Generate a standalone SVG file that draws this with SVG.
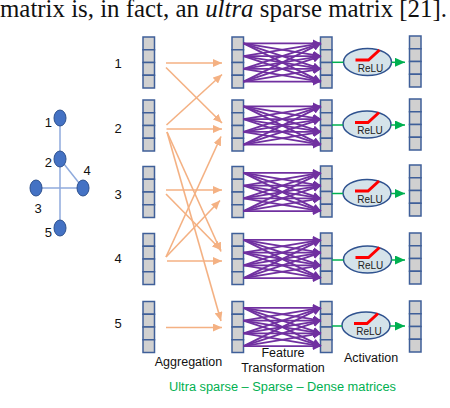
<svg xmlns="http://www.w3.org/2000/svg" xmlns:xlink="http://www.w3.org/1999/xlink" width="450" height="408" viewBox="0 0 450 408">
<style>
.cell{fill:#D0D0D0;stroke:#3F5F99;stroke-width:1.5}
.lbl{font-family:"Liberation Sans",Arial,sans-serif;font-size:13px;fill:#111}
.cap{font-family:"Liberation Sans",Arial,sans-serif;font-size:12.5px;fill:#111;text-anchor:middle}
.edge{stroke:#8FAADC;stroke-width:1.5;fill:none}
.gnode{fill:#4472C4;stroke:#2F528F;stroke-width:1}
.or{stroke:#F4B183;stroke-width:1.6;fill:none;marker-end:url(#ah-or)}
.pu{stroke:#7030A0;stroke-width:1.9;fill:none;marker-end:url(#ah-pu)}
.gr{stroke:#00B050;stroke-width:1.5;fill:none}
.gra{stroke:#00B050;stroke-width:1.5;fill:none;marker-end:url(#ah-gr)}
.relu{fill:#D5E3EA;stroke:#2F528F;stroke-width:1.5}
</style>
<defs>
<marker id="ah-or" markerUnits="userSpaceOnUse" markerWidth="9" markerHeight="8" refX="9" refY="4" orient="auto"><path d="M0,0 L9,4 L0,8 z" fill="#F4B183"/></marker>
<marker id="ah-pu" markerUnits="userSpaceOnUse" markerWidth="8" markerHeight="8" refX="8" refY="4" orient="auto"><path d="M0,0 L8,4 L0,8 z" fill="#7030A0"/></marker>
<marker id="ah-gr" markerUnits="userSpaceOnUse" markerWidth="10" markerHeight="9" refX="10" refY="4.5" orient="auto"><path d="M0,0 L10,4.5 L0,9 z" fill="#00B050"/></marker>
<g id="mat">
<rect class="cell" x="0" y="0" width="11.5" height="12.75"/>
<rect class="cell" x="0" y="12.75" width="11.5" height="12.75"/>
<rect class="cell" x="0" y="25.5" width="11.5" height="12.75"/>
<rect class="cell" x="0" y="38.25" width="11.5" height="12.75"/>
</g>
<g id="fan">
<line class="pu" x1="243.5" y1="6.4" x2="321" y2="6.4"/>
<line class="pu" x1="243.5" y1="6.4" x2="321" y2="19.1"/>
<line class="pu" x1="243.5" y1="6.4" x2="321" y2="31.9"/>
<line class="pu" x1="243.5" y1="6.4" x2="321" y2="44.6"/>
<line class="pu" x1="243.5" y1="19.1" x2="321" y2="6.4"/>
<line class="pu" x1="243.5" y1="19.1" x2="321" y2="19.1"/>
<line class="pu" x1="243.5" y1="19.1" x2="321" y2="31.9"/>
<line class="pu" x1="243.5" y1="19.1" x2="321" y2="44.6"/>
<line class="pu" x1="243.5" y1="31.9" x2="321" y2="6.4"/>
<line class="pu" x1="243.5" y1="31.9" x2="321" y2="19.1"/>
<line class="pu" x1="243.5" y1="31.9" x2="321" y2="31.9"/>
<line class="pu" x1="243.5" y1="31.9" x2="321" y2="44.6"/>
<line class="pu" x1="243.5" y1="44.6" x2="321" y2="6.4"/>
<line class="pu" x1="243.5" y1="44.6" x2="321" y2="19.1"/>
<line class="pu" x1="243.5" y1="44.6" x2="321" y2="31.9"/>
<line class="pu" x1="243.5" y1="44.6" x2="321" y2="44.6"/>
</g>
<g id="reluU">
<ellipse class="relu" cx="0" cy="0" rx="24" ry="13.5"/>
<polyline points="-12,-2 1,-2 12,-12" fill="none" stroke="#FF0000" stroke-width="3"/>
<text x="3" y="9.5" font-family="Liberation Sans,Arial,sans-serif" font-size="10" fill="#222" text-anchor="middle">ReLU</text>
</g>
</defs>
<rect width="450" height="408" fill="#FFFFFF"/>
<text x="0" y="16.5" font-family="Liberation Serif,'Times New Roman',serif" font-size="25" fill="#111" textLength="447" lengthAdjust="spacingAndGlyphs">matrix is, in fact, an <tspan font-style="italic">ultra</tspan> sparse matrix [21].</text>

<g id="graph-edges">
<line class="edge" x1="60" y1="118" x2="60" y2="228"/>
<line class="edge" x1="36" y1="188" x2="83" y2="188"/>
<line class="edge" x1="60" y1="159" x2="83" y2="188"/>
</g>
<g id="g1"><ellipse class="gnode" cx="60" cy="118" rx="6" ry="8"/><text class="lbl" x="52" y="127" text-anchor="end">1</text></g>
<g id="g2"><ellipse class="gnode" cx="60" cy="159" rx="6" ry="8"/><text class="lbl" x="52" y="167" text-anchor="end">2</text></g>
<g id="g3"><ellipse class="gnode" cx="36" cy="188" rx="6" ry="8"/><text class="lbl" x="38" y="213" text-anchor="middle">3</text></g>
<g id="g4"><ellipse class="gnode" cx="83" cy="188" rx="6" ry="8"/><text class="lbl" x="87" y="175" text-anchor="middle">4</text></g>
<g id="g5"><ellipse class="gnode" cx="60" cy="228" rx="6" ry="8"/><text class="lbl" x="52" y="237" text-anchor="end">5</text></g>

<g id="row-labels">
<text class="lbl" x="118" y="68" text-anchor="middle">1</text>
<text class="lbl" x="118" y="133" text-anchor="middle">2</text>
<text class="lbl" x="118" y="199" text-anchor="middle">3</text>
<text class="lbl" x="118" y="263" text-anchor="middle">4</text>
<text class="lbl" x="118" y="328" text-anchor="middle">5</text>
</g>

<g id="in1"><use xlink:href="#mat" x="143" y="37"/></g>
<g id="in2"><use xlink:href="#mat" x="143" y="100"/></g>
<g id="in3"><use xlink:href="#mat" x="143" y="166.5"/></g>
<g id="in4"><use xlink:href="#mat" x="143" y="233.5"/></g>
<g id="in5"><use xlink:href="#mat" x="143" y="301.5"/></g>

<g id="agg1"><use xlink:href="#mat" x="232" y="37"/></g>
<g id="agg2"><use xlink:href="#mat" x="232" y="100"/></g>
<g id="agg3"><use xlink:href="#mat" x="232" y="166.5"/></g>
<g id="agg4"><use xlink:href="#mat" x="232" y="233.5"/></g>
<g id="agg5"><use xlink:href="#mat" x="232" y="301.5"/></g>

<g id="ft1"><use xlink:href="#mat" x="320.5" y="37"/></g>
<g id="ft2"><use xlink:href="#mat" x="320.5" y="100"/></g>
<g id="ft3"><use xlink:href="#mat" x="320.5" y="166"/></g>
<g id="ft4"><use xlink:href="#mat" x="320.5" y="233"/></g>
<g id="ft5"><use xlink:href="#mat" x="320.5" y="301.5"/></g>

<g id="out1"><use xlink:href="#mat" x="409.5" y="36"/></g>
<g id="out2"><use xlink:href="#mat" x="409.5" y="99"/></g>
<g id="out3"><use xlink:href="#mat" x="409.5" y="165"/></g>
<g id="out4"><use xlink:href="#mat" x="409.5" y="233"/></g>
<g id="out5"><use xlink:href="#mat" x="409.5" y="301"/></g>

<g id="relu1"><use xlink:href="#reluU" x="367.5" y="62"/></g>
<g id="relu2"><use xlink:href="#reluU" x="367" y="124.5"/></g>
<g id="relu3"><use xlink:href="#reluU" x="367" y="193"/></g>
<g id="relu4"><use xlink:href="#reluU" x="367.5" y="259.5"/></g>
<g id="relu5"><use xlink:href="#reluU" x="366" y="325.5"/></g>

<g id="connectors">
<line class="or" x1="166" y1="63" x2="222" y2="63"/>
<line class="or" x1="166" y1="67.5" x2="222" y2="123"/>
<line class="or" x1="166.5" y1="125" x2="222" y2="74.5"/>
<line class="or" x1="166.5" y1="129" x2="222" y2="129"/>
<line class="or" x1="167" y1="132" x2="221" y2="251.5"/>
<line class="or" x1="167" y1="132" x2="221" y2="321"/>
<line class="or" x1="166" y1="190" x2="222" y2="190"/>
<line class="or" x1="166" y1="194" x2="221" y2="250"/>
<line class="or" x1="166" y1="257" x2="221" y2="136.5"/>
<line class="or" x1="166" y1="257" x2="220" y2="200.5"/>
<line class="or" x1="167" y1="261" x2="222" y2="261"/>
<line class="or" x1="166" y1="327.5" x2="222" y2="327.5"/>

<use xlink:href="#fan" y="37"/>
<use xlink:href="#fan" y="100"/>
<use xlink:href="#fan" y="166.5"/>
<use xlink:href="#fan" y="233.5"/>
<use xlink:href="#fan" y="301.5"/>

<line class="gr" x1="332" y1="62.3" x2="343.5" y2="62.3"/>
<line class="gra" x1="391.5" y1="62.3" x2="405" y2="62.3"/>
<line class="gr" x1="332" y1="125" x2="343" y2="125"/>
<line class="gra" x1="391" y1="125" x2="405" y2="125"/>
<line class="gr" x1="332" y1="193.5" x2="343" y2="193.5"/>
<line class="gra" x1="391" y1="193.5" x2="405" y2="193.5"/>
<line class="gr" x1="332" y1="260" x2="343.5" y2="260"/>
<line class="gra" x1="391.5" y1="260" x2="405" y2="260"/>
<line class="gr" x1="332" y1="326" x2="342" y2="326"/>
<line class="gra" x1="390" y1="326" x2="405" y2="326"/>
</g>

<g id="captions">
<text class="cap" x="188.5" y="366">Aggregation</text>
<text class="cap" x="283" y="357">Feature</text>
<text class="cap" x="283" y="372">Transformation</text>
<text class="cap" x="371" y="362">Activation</text>
<text class="cap" x="282.5" y="391" style="fill:#00B050" textLength="227" lengthAdjust="spacingAndGlyphs">Ultra sparse – Sparse – Dense matrices</text>
</g>
</svg>
